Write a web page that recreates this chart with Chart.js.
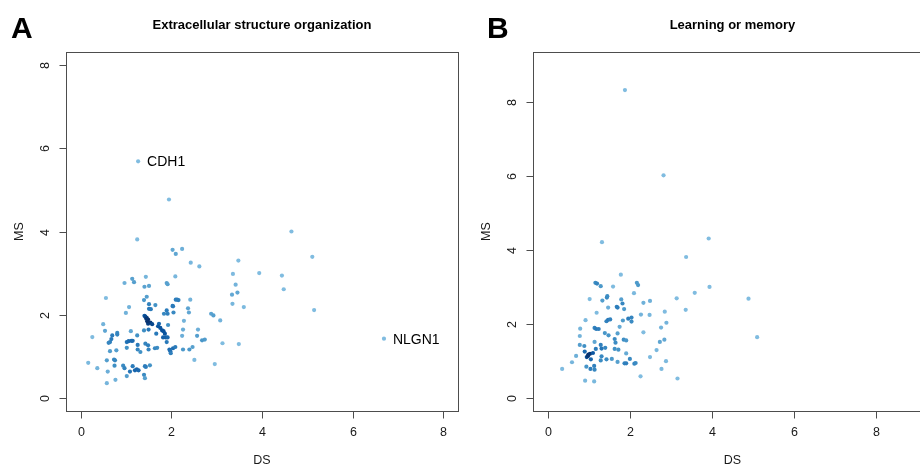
<!DOCTYPE html>
<html>
<head>
<meta charset="utf-8">
<script src="https://cdn.jsdelivr.net/npm/chart.js@4.4.1/dist/chart.umd.min.js"></script>
<style>
  html, body { margin: 0; padding: 0; background: #fff; width: 920px; height: 465px; overflow: hidden; }
  canvas { position: absolute; top: 0; }
  #panelA { left: 0; }
  #panelB { left: 460px; }
</style>
</head>
<body>
<canvas id="panelA" width="460" height="465"></canvas>
<canvas id="panelB" width="480" height="465"></canvas>
<script>
// ---- data ----
// panel A: Extracellular structure organization
const ecmDS = [1.95,1.25,4.65,5.11,2.03,2.24,2.10,2.43,2.62,3.48,3.36,3.94,4.44,3.42,3.46,3.34,4.48,3.35,3.60,5.15,
  3.49,3.13,2.96,2.51,3.08,2.88,2.93,2.74,2.68,2.59,2.57,2.47,2.40,2.26,2.28,2.26,2.24,2.39,2.37,2.42,
  2.13,2.10,2.16,2.03,2.04,2.05,1.84,1.90,1.92,2.09,1.90,1.92,1.44,1.51,1.41,1.14,1.18,0.97,1.46,1.40,
  1.51,1.65,1.51,1.55,1.07,1.00,0.56,1.41,1.46,1.49,1.49,1.54,1.58,1.47,1.73,1.71,1.76,1.80,1.83,1.86,
  1.88,1.82,1.92,1.93,1.67,1.50,1.40,1.43,1.25,1.11,0.81,0.81,0.70,0.68,0.65,0.62,0.54,0.50,0.26,0.65,
  0.79,1.02,1.06,1.12,1.15,1.02,1.26,1.26,1.32,1.50,1.69,1.64,1.90,1.96,1.98,1.99,2.04,2.09,0.58,0.74,
  0.76,0.75,0.94,0.97,1.15,1.20,1.24,1.28,1.09,1.02,1.42,1.44,1.53,1.40,1.42,0.60,0.37,0.17,0.77,0.58,
  1.49,1.43,1.45];
const ecmMS = [4.77,3.81,4.00,3.39,3.56,3.58,3.46,3.25,3.16,3.30,2.98,3.00,2.94,2.72,2.53,2.48,2.61,2.26,2.18,2.11,
  1.29,1.31,0.81,0.91,1.86,2.02,1.98,1.40,1.38,1.64,1.49,1.22,1.16,1.16,1.85,1.64,1.49,2.05,2.15,2.36,
  2.36,2.36,2.35,2.21,2.20,2.05,2.02,2.10,2.02,2.92,2.76,2.73,2.91,2.69,2.67,2.86,2.78,2.76,2.43,2.35,
  2.25,2.23,2.14,2.13,2.18,2.04,2.40,1.97,1.92,1.88,1.78,1.81,1.77,1.84,1.78,1.72,1.68,1.62,1.60,1.54,
  1.45,1.45,1.45,1.75,1.54,1.64,1.62,1.30,1.50,1.60,1.56,1.52,1.50,1.41,1.34,1.32,1.61,1.77,1.46,1.12,
  1.14,1.34,1.36,1.37,1.37,1.20,1.27,1.16,1.10,1.16,1.20,1.19,1.34,1.16,1.12,1.07,1.19,1.22,0.90,0.92,
  0.90,0.77,0.77,0.71,0.76,0.66,0.68,0.66,0.63,0.52,0.76,0.74,0.78,0.55,0.47,0.63,0.71,0.84,0.43,0.35,
  1.26,1.95,1.90];
const ecmNames = ['CDH1', 'NLGN1'];
const ecmNamedDS = [1.27, 6.69];
const ecmNamedMS = [5.69, 1.42];

// panel B: Learning or memory
const memDS = [1.88,2.82,1.32,3.92,3.37,3.94,1.78,1.16,1.20,1.29,1.59,2.17,2.20,2.10,3.58,3.14,4.89,1.02,1.33,1.44,
  1.45,1.79,1.82,1.86,2.33,2.49,1.68,1.70,1.47,1.19,2.85,3.36,2.27,2.48,0.92,1.43,1.47,1.52,1.83,1.96,
  2.04,2.04,2.89,1.75,0.79,1.14,1.18,1.24,2.76,1.39,1.48,1.70,2.33,0.78,5.10,1.63,1.85,1.91,1.65,1.14,
  2.84,2.73,0.78,0.89,1.29,1.31,1.40,1.17,1.63,1.72,2.65,0.90,0.99,1.03,1.10,0.95,0.98,1.05,1.91,0.69,
  1.31,2.49,0.59,1.29,1.43,1.56,1.70,1.87,1.91,2.00,2.11,2.14,2.88,0.94,1.04,1.13,1.14,0.35,2.77,2.26,
  3.16,0.91,1.13];
const memMS = [8.33,6.02,4.21,4.31,3.81,3.00,3.33,3.11,3.09,3.02,3.01,3.11,3.05,2.83,2.84,2.69,2.68,2.67,2.63,2.71,
  2.75,2.66,2.55,2.40,2.57,2.62,2.46,2.44,2.44,2.30,2.33,2.38,2.25,2.24,2.10,2.07,2.11,2.12,2.09,2.14,
  2.17,2.06,2.03,1.92,1.87,1.89,1.86,1.86,1.90,1.75,1.69,1.74,1.77,1.67,1.64,1.59,1.57,1.55,1.49,1.51,
  1.57,1.51,1.43,1.40,1.43,1.33,1.35,1.32,1.32,1.30,1.29,1.25,1.17,1.19,1.21,1.10,1.13,1.04,1.20,1.13,
  1.12,1.10,0.96,1.01,1.04,1.05,0.97,0.93,0.93,1.05,0.92,0.94,0.99,0.84,0.78,0.86,0.76,0.78,0.78,0.58,
  0.52,0.46,0.44];

const xTicks = [0, 2, 4, 6, 8];
const yTicks = [0, 2, 4, 6, 8];

// ---- density colours, like R densCols with the Blues ramp ----
const ramp = ['#80BCE0', '#4292C6', '#2171B5', '#08519C', '#08306B'];
function hexRgb(h) { return [1, 3, 5].map(i => parseInt(h.substr(i, 2), 16)); }
function rampColor(t) {
  const p = t * (ramp.length - 1), i = Math.min(Math.floor(p), ramp.length - 2), f = p - i;
  const a = hexRgb(ramp[i]), b = hexRgb(ramp[i + 1]);
  return 'rgb(' + a.map((v, k) => Math.round(v + (b[k] - v) * f)).join(',') + ')';
}
function quant(arr, p) {
  const s = arr.slice().sort((a, b) => a - b), h = (s.length - 1) * p, lo = Math.floor(h);
  return s[lo] + (s[Math.min(lo + 1, s.length - 1)] - s[lo]) * (h - lo);
}
function densColors(xs, ys) {
  const hx = (quant(xs, 0.95) - quant(xs, 0.05)) / 25, hy = (quant(ys, 0.95) - quant(ys, 0.05)) / 25;
  const d = xs.map((x, i) => xs.reduce((s, x2, j) => {
    const dx = (x - x2) / hx, dy = (ys[i] - ys[j]) / hy;
    return s + Math.exp(-0.5 * (dx * dx + dy * dy));
  }, 0));
  const mn = Math.min(...d), mx = Math.max(...d);
  return d.map(v => rampColor((v - mn) / (mx - mn)));
}

// ---- R style frame, axes and labels ----
const rFrame = {
  id: 'rFrame',
  afterDraw(chart, args, o) {
    const { ctx, chartArea: a, scales: { x, y } } = chart;
    ctx.save();
    ctx.strokeStyle = '#4d4d4d';
    ctx.lineWidth = 1;
    const L = Math.round(a.left) + 0.5, R = Math.round(a.right) + 0.5;
    const T = Math.round(a.top) + 0.5, B = Math.round(a.bottom) + 0.5;
    ctx.strokeRect(L, T, R - L, B - T);
    ctx.fillStyle = '#1a1a1a';
    ctx.font = '12.5px "Liberation Sans", Arial, sans-serif';
    ctx.textAlign = 'center';
    ctx.textBaseline = 'middle';
    xTicks.forEach(v => {
      const px = Math.round(x.getPixelForValue(v)) + 0.5;
      ctx.beginPath(); ctx.moveTo(px, B); ctx.lineTo(px, B + 7); ctx.stroke();
      ctx.fillText(String(v), px, B + 21.5);
    });
    yTicks.forEach(v => {
      const py = Math.round(y.getPixelForValue(v)) + 0.5;
      ctx.beginPath(); ctx.moveTo(L, py); ctx.lineTo(L - 7, py); ctx.stroke();
      ctx.save(); ctx.translate(L - 20.5, py); ctx.rotate(-Math.PI / 2);
      ctx.fillText(String(v), 0, 0); ctx.restore();
    });
    const cx = (a.left + a.right) / 2, cy = (a.top + a.bottom) / 2;
    ctx.fillText('DS', cx, B + 49);
    ctx.save(); ctx.translate(L - 47, cy); ctx.rotate(-Math.PI / 2);
    ctx.fillText('MS', 0, 0); ctx.restore();
    // title and panel letter
    ctx.fillStyle = '#000';
    ctx.font = 'bold 13px "Liberation Sans", Arial, sans-serif';
    ctx.fillText(o.title, cx, 25);
    ctx.font = 'bold 30px "Liberation Sans", Arial, sans-serif';
    ctx.textAlign = 'left';
    ctx.textBaseline = 'alphabetic';
    ctx.fillText(o.letter, o.letterX, 38);
    // gene labels
    ctx.font = '14px "Liberation Sans", Arial, sans-serif';
    ctx.textBaseline = 'middle';
    (o.names || []).forEach((n, i) => {
      ctx.fillText(n, x.getPixelForValue(o.namedDS[i]) + 9, y.getPixelForValue(o.namedMS[i]) + 1);
    });
    ctx.restore();
  }
};

function makePanel(id, ds, ms, lim, pad, opts) {
  const colors = densColors(ds, ms);
  return new Chart(document.getElementById(id), {
    type: 'scatter',
    data: {
      datasets: [{
        data: ds.map((v, i) => ({ x: v, y: ms[i] })),
        pointRadius: 2.1,
        pointBorderWidth: 0,
        pointBackgroundColor: colors,
        pointHoverRadius: 2.1
      }]
    },
    options: {
      responsive: false,
      animation: false,
      events: [],
      layout: { padding: pad },
      plugins: { legend: { display: false }, tooltip: { enabled: false }, rFrame: opts },
      scales: {
        x: { type: 'linear', display: false, min: lim[0], max: lim[1] },
        y: { type: 'linear', display: false, min: lim[2], max: lim[3] }
      }
    },
    plugins: [rFrame]
  });
}

makePanel('panelA', ecmDS.concat(ecmNamedDS), ecmMS.concat(ecmNamedMS),
  [-0.32, 8.32, -0.32, 8.32], { left: 66, top: 52, right: 2, bottom: 54 },
  { title: 'Extracellular structure organization', letter: 'A', letterX: 11,
    names: ecmNames, namedDS: ecmNamedDS, namedMS: ecmNamedMS });

makePanel('panelB', memDS, memMS,
  [-0.36, 9.36, -0.36, 9.36], { left: 73, top: 52, right: 8, bottom: 54 },
  { title: 'Learning or memory', letter: 'B', letterX: 27 });
</script>
</body>
</html>
